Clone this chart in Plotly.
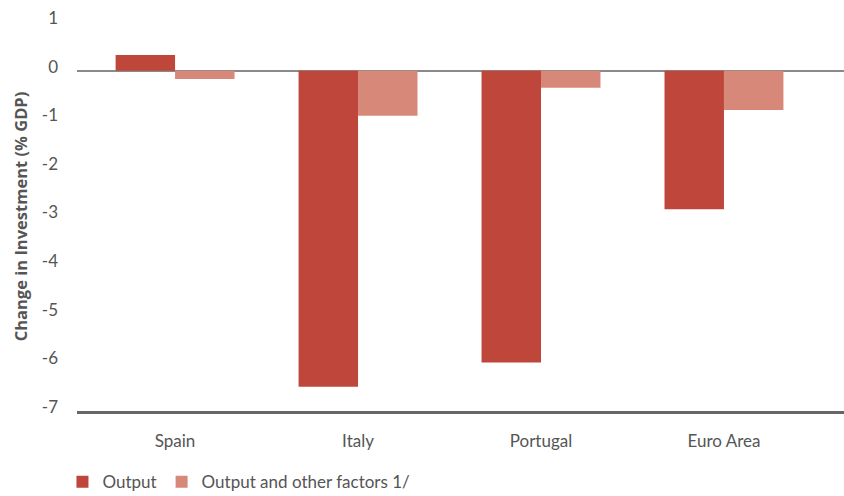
import plotly.graph_objects as go

# Change in investment by country, % of GDP
countries = ["Spain", "Italy", "Portugal", "Euro Area"]
output_vals = [0.32, -6.5, -6.0, -2.85]
output_other_vals = [-0.17, -0.93, -0.35, -0.81]
y_ticks = [1, 0, -1, -2, -3, -4, -5, -6, -7]

font_family = "Lato, Open Sans, sans-serif"
text_color = "#555555"

fig = go.Figure()
fig.add_trace(go.Bar(
    x=countries, y=output_vals, name="Output",
    marker=dict(color="#BE463B", line=dict(width=0)),
))
fig.add_trace(go.Bar(
    x=countries, y=output_other_vals, name="Output and other factors 1/",
    marker=dict(color="#D88878", line=dict(width=0)),
))

fig.update_layout(
    width=844, height=496,
    margin=dict(l=77, r=0, t=22, b=85),
    paper_bgcolor="white", plot_bgcolor="white",
    barmode="group", bargap=0.35, bargroupgap=0,
    font=dict(family=font_family, color=text_color),
    showlegend=True,
    legend=dict(
        orientation="h", xref="container", yref="container",
        x=0.074, y=0.028, xanchor="left", yanchor="middle",
        font=dict(size=17, color=text_color),
        itemsizing="constant", traceorder="normal",
    ),
    xaxis=dict(
        type="category", range=[-0.536, 3.656],
        showgrid=False, showline=True, linecolor="#666666", linewidth=3,
        ticks="", ticklabelstandoff=13,
        tickfont=dict(size=17, color=text_color),
    ),
    yaxis=dict(
        range=[-7, 1], tickvals=y_ticks, ticktext=[str(v) for v in y_ticks],
        showgrid=False, zeroline=True, zerolinecolor="#8a8a8a", zerolinewidth=2,
        ticks="", ticklabelstandoff=18, ticklabelshift=-4,
        tickfont=dict(size=17, color=text_color),
        title=dict(text="<b>Change in Investment (% GDP)</b>", standoff=10,
                   font=dict(family="Open Sans, sans-serif", size=16.5, color=text_color)),
    ),
)

fig.write_html("out.html")
